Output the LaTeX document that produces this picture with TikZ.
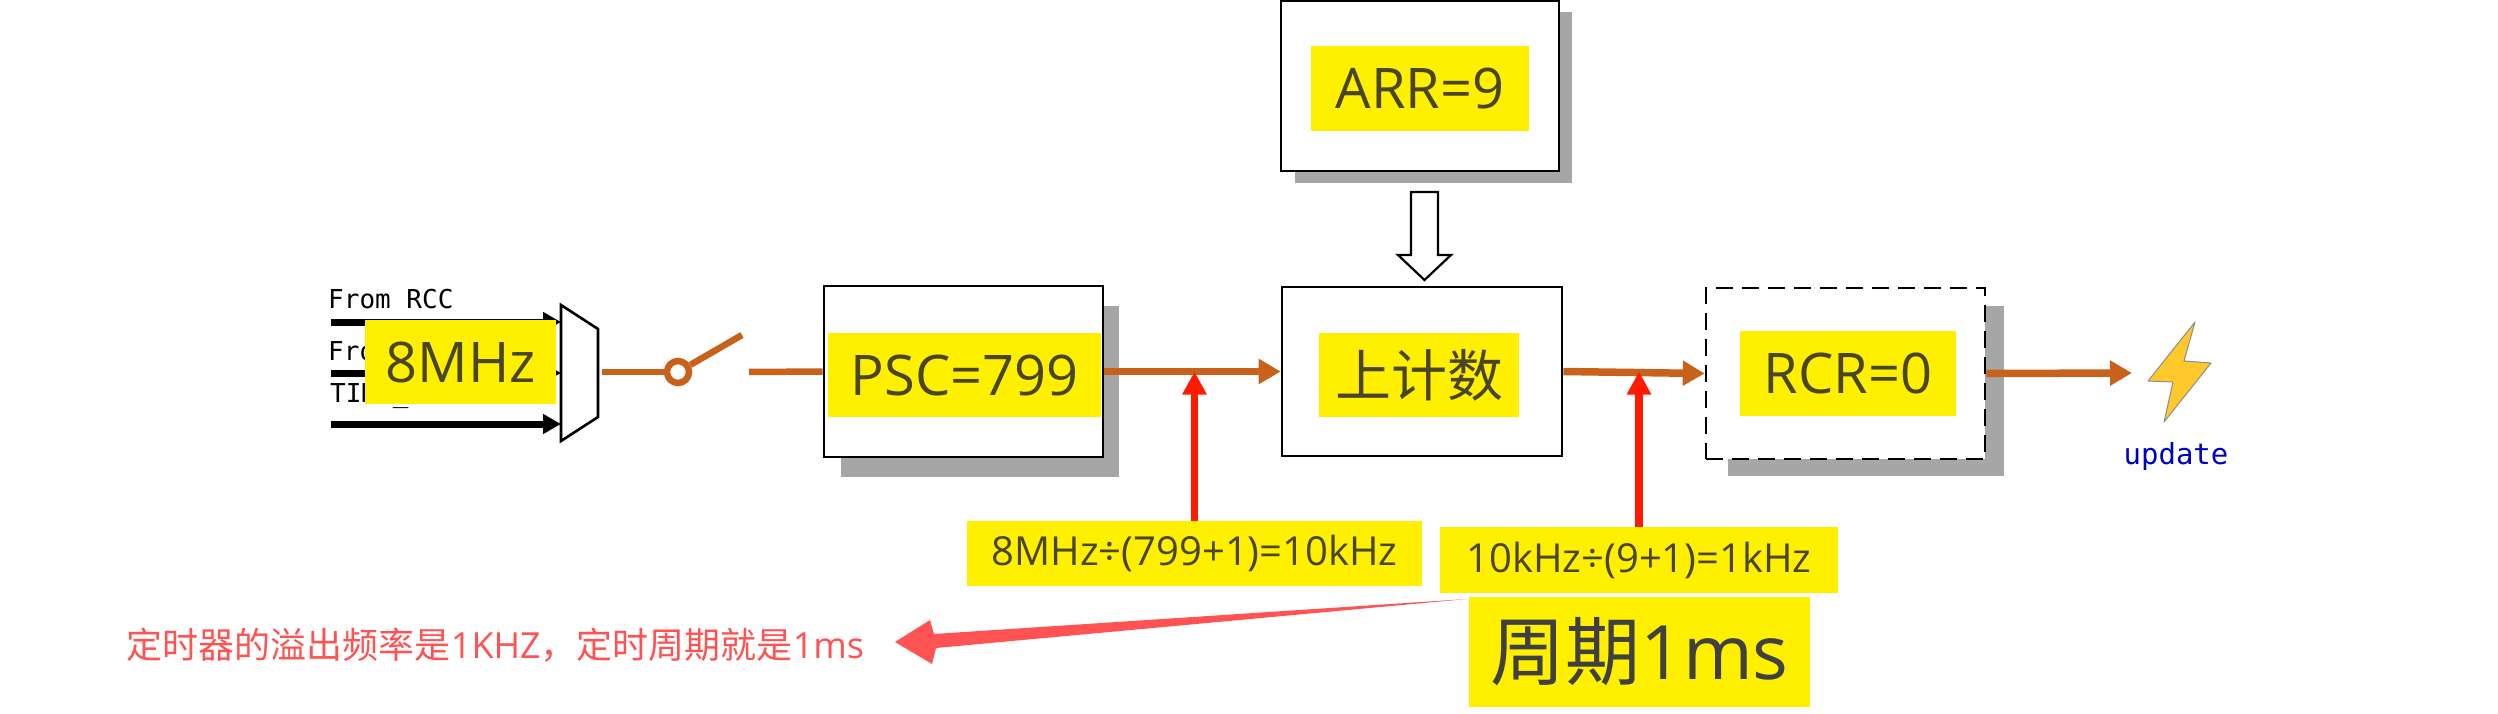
\documentclass[tikz,border=0pt]{standalone}
\usepackage{fontspec}
\usepackage{xcolor}
\usetikzlibrary{arrows.meta}
\setmainfont{Open Sans}
\newfontfamily\cjkfam{Noto Sans CJK SC}
\newfontfamily\monofam{DejaVu Sans Mono}
\definecolor{cMark}{HTML}{FFF000}
\definecolor{cInk}{HTML}{4A4526}
\definecolor{cFlow}{HTML}{C8611A}
\definecolor{cTick}{HTML}{FF1A00}
\definecolor{cNote}{HTML}{FF5252}
\definecolor{cShade}{HTML}{A6A6A6}
\definecolor{cBolt}{HTML}{FFC92B}
\newcommand{\backshade}[4]{\fill[cShade] (#1,#3) rectangle (#2,#4);}
\begin{document}
\begin{tikzpicture}[x=1pt, y=-1pt,
  regbox/.style={draw, line width=2.6pt, fill=white, inner sep=0pt},
  marker/.style={fill=cMark, text=cInk, inner sep=0pt},
  big/.style={font=\fontsize{56}{56}\selectfont},
  small/.style={font=\fontsize{40}{40}\selectfont},
  flow/.style={draw=cFlow, line width=7.5pt, -{Triangle[length=22pt,width=24pt]}},
  wire/.style={draw=cFlow, line width=6.5pt},
  tick/.style={draw=cTick, line width=7.5pt, -{Triangle[length=23pt,width=23pt]}},
  feed/.style={draw=black, line width=7pt, -{Triangle[length=18pt,width=19pt]}},
  mono/.style={font=\monofam\fontsize{26}{26}\selectfont, inner sep=0pt, anchor=base west}]
\useasboundingbox (0,0) rectangle (2498,714);
% ---- inputs and selector ---------------------------------------------------
\node[mono] (rcc) at (328,308) {From RCC};
\node[mono] (trg) at (328,360) {From};
\node[mono] (tim) at (330,402) {TIMx\_};
\coordinate (in1) at (331,322);
\coordinate (in2) at (331,373);
\coordinate (in3) at (331,424);
\coordinate (mux1) at (561,322);
\coordinate (mux2) at (561,373);
\coordinate (mux3) at (561,424);
\draw[feed] (in1) -- (mux1);
\draw[feed] (in2) -- (mux2);
\draw[feed] (in3) -- (mux3);
\draw[line width=2.6pt, fill=white] (561,305) coordinate (muxa) -- (598,329) -- (598,417) -- (561,441) -- cycle;
\node[marker, big, minimum width=191pt, minimum height=84pt] (clk) at (460.5,362) {8MHz};
% ---- switch -----------------------------------------------------------------
\coordinate (swa) at (602,372);
\coordinate (swb) at (742,335);
\coordinate (swc) at (749,372);
\node[circle, draw=cFlow, line width=6.5pt, fill=white, minimum size=22pt, inner sep=0pt] (pivot) at (678,372) {};
\draw[wire] (swa) -- (pivot.west);
\draw[wire] (pivot.30) -- (swb);
% ---- registers --------------------------------------------------------------
\backshade{841}{1119}{306}{477}
\backshade{1295}{1572}{12}{183}
\backshade{1728}{2004}{306}{476}
\node[regbox, minimum width=279pt, minimum height=171pt] (psc) at (963.5,371.5) {};
\node[regbox, minimum width=278pt, minimum height=170pt] (arr) at (1420,86) {};
\node[regbox, minimum width=280pt, minimum height=169pt] (cnt) at (1422,371.5) {};
\node[regbox, dashed, dash pattern=on 17pt off 9pt, minimum width=279pt, minimum height=171pt] (rcr) at (1845.5,373.5) {};
\draw[wire] (swc) -- (psc.west);
\node[marker, big, minimum width=273pt, minimum height=84pt] (pscv) at (964.5,375) {PSC=799};
\node[marker, big, minimum width=218pt, minimum height=85pt] (arrv) at (1420,88.5) {ARR=9};
\node[marker, big, minimum width=200pt, minimum height=84pt] (cntv) at (1419,375) {\cjkfam 上计数};
\node[marker, big, minimum width=216pt, minimum height=85pt] (rcrv) at (1848,373.5) {RCR=0};
% ---- hollow arrow from ARR --------------------------------------------------
\draw[line width=2.2pt, fill=white] (1411,192) coordinate (holla) -- (1438,192) -- (1438,255) -- (1451,255) -- (1424.5,280) -- (1398,255) -- (1411,255) -- cycle;
% ---- clock path -------------------------------------------------------------
\draw[flow] (psc.east) -- (cnt.west);
\draw[flow] (cnt.east) -- (rcr.west);
\coordinate (bolta) at (2132,373);
\draw[flow] (rcr.east) -- (bolta);
\draw[line width=1pt, draw=black!45, fill=cBolt, line join=round] (2195,322) -- (2184,361) -- (2211,363) -- (2164,422) -- (2173,382) -- (2148,381) -- cycle;
\node[font=\monofam\fontsize{29}{29}\selectfont, text=blue!75!black, inner sep=0pt] (upd) at (2176,456) {update};
% ---- formulas ---------------------------------------------------------------
\node[marker, small, minimum width=455pt, minimum height=65pt] (psceq) at (1194.5,553.5) {8MHz÷(799+1)=10kHz};
\node[marker, small, minimum width=398pt, minimum height=66pt] (arreq) at (1639,560) {10kHz÷(9+1)=1kHz};
\node[marker, minimum width=341pt, minimum height=110pt, font=\fontsize{75}{75}\selectfont, text=black!75] (period) at (1639.5,652) {{\cjkfam 周期}1ms};
\draw[tick] (psceq.north) -- (psceq.north |- psc.east);
\draw[tick] (arreq.north) -- (arreq.north |- cnt.east);
% ---- note -------------------------------------------------------------------
\node[text=cNote, font=\fontsize{36}{36}\selectfont, inner sep=0pt] (note) at (495.5,645) {{\cjkfam 定时器的溢出频率是}1KHZ{\cjkfam ，定时周期就是}1ms};
\coordinate (tail) at (1467,599);
\coordinate (tip) at (895,642);
\fill[cNote] (tail) -- (936,648) -- (932,664) -- (tip) -- (930,620) -- (934,634) -- cycle;
\end{tikzpicture}
\end{document}
